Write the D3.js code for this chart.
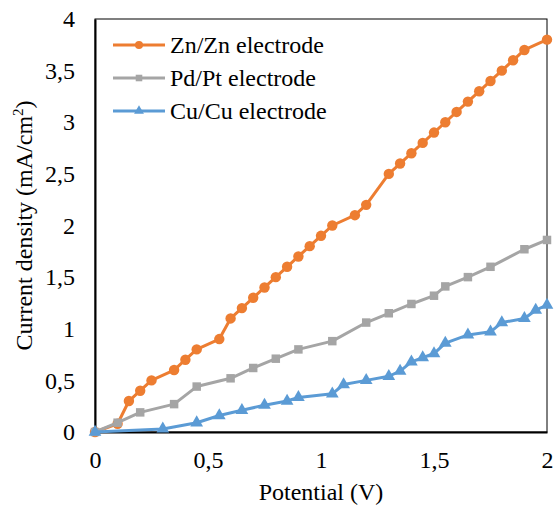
<!DOCTYPE html>
<html>
<head>
<meta charset="utf-8">
<script src="https://cdn.jsdelivr.net/npm/d3@7"></script>
</head>
<body style="margin:0; background:#fff">
<script>
let xTicks = [0, 0.5, 1, 1.5, 2]
let yTicks = [0, 0.5, 1, 1.5, 2, 2.5, 3, 3.5, 4]

let znX = [0, 0.1, 0.15, 0.2, 0.25, 0.35, 0.4, 0.45, 0.55, 0.6, 0.65, 0.7, 0.75, 0.8, 0.85, 0.9, 0.95, 1.0, 1.05, 1.15, 1.2, 1.3, 1.35, 1.4, 1.45, 1.5, 1.55, 1.6, 1.65, 1.7, 1.75, 1.8, 1.85, 1.9, 2.0]
let znY = [0, 0.08, 0.3, 0.4, 0.5, 0.6, 0.7, 0.8, 0.9, 1.1, 1.2, 1.3, 1.4, 1.5, 1.6, 1.7, 1.8, 1.9, 2.0, 2.1, 2.2, 2.5, 2.6, 2.7, 2.8, 2.9, 3.0, 3.1, 3.2, 3.3, 3.4, 3.5, 3.6, 3.7, 3.8]

let pdX = [0, 0.1, 0.2, 0.35, 0.45, 0.6, 0.7, 0.8, 0.9, 1.05, 1.2, 1.3, 1.4, 1.5, 1.55, 1.65, 1.75, 1.9, 2.0]
let pdY = [0, 0.09, 0.19, 0.27, 0.44, 0.52, 0.62, 0.71, 0.80, 0.88, 1.06, 1.15, 1.24, 1.32, 1.41, 1.50, 1.60, 1.77, 1.86]

let cuX = [0, 0.3, 0.45, 0.55, 0.65, 0.75, 0.85, 0.9, 1.05, 1.1, 1.2, 1.3, 1.35, 1.4, 1.45, 1.5, 1.55, 1.65, 1.75, 1.8, 1.9, 1.95, 2.0]
let cuY = [0, 0.03, 0.09, 0.16, 0.21, 0.26, 0.30, 0.335, 0.37, 0.46, 0.50, 0.54, 0.59, 0.68, 0.72, 0.76, 0.86, 0.94, 0.97, 1.06, 1.10, 1.18, 1.23]

let seriesNames = ['Zn/Zn electrode', 'Pd/Pt electrode', 'Cu/Cu electrode']

let series = [
  { name: seriesNames[0], xs: znX, ys: znY, color: '#ED7D31', symbol: d3.symbolCircle, size: 85 },
  { name: seriesNames[1], xs: pdX, ys: pdY, color: '#A5A5A5', symbol: d3.symbolSquare, size: 72 },
  { name: seriesNames[2], xs: cuX, ys: cuY, color: '#5B9BD5', symbol: d3.symbolTriangle, size: 70 }
]

let fontFam = "'Liberation Serif'"
let fontSize = '24px'

let margin = { top: 19, right: 8, bottom: 77, left: 95 }
let width = 555 - margin.left - margin.right
let height = 509 - margin.top - margin.bottom

let x = d3.scaleLinear().domain([0, 2]).range([0, width])
let y = d3.scaleLinear().domain([0, 4]).range([height, 0])

let fmt = d => String(d).replace('.', ',')

let svg = d3.select('body')
  .append('svg')
  .attr('width', 555)
  .attr('height', 509)

let g = svg.append('g')
  .attr('transform', 'translate(' + margin.left + ',' + margin.top + ')')

// plot frame
g.append('rect')
  .attr('width', width)
  .attr('height', height)
  .attr('fill', 'none')
  .attr('stroke', '#000')
  .attr('stroke-width', 1)

// axes
let xAxis = g.append('g')
  .attr('transform', 'translate(0,' + height + ')')
  .call(d3.axisBottom(x).tickValues(xTicks).tickSize(0).tickPadding(19).tickFormat(fmt))
let yAxis = g.append('g')
  .call(d3.axisLeft(y).tickValues(yTicks).tickSize(0).tickPadding(20).tickFormat(fmt))

xAxis.select('.domain').attr('stroke', '#000').attr('stroke-width', 2)
yAxis.select('.domain').attr('stroke', '#000').attr('stroke-width', 2)

// axis titles
svg.append('text')
  .attr('x', margin.left + width / 2)
  .attr('y', 500)
  .attr('text-anchor', 'middle')
  .text('Potential (V)')

let yt = svg.append('text')
  .attr('transform', 'translate(32,' + (margin.top + height / 2) + ') rotate(-90)')
  .attr('text-anchor', 'middle')
yt.append('tspan').text('Current density (mA/cm')
yt.append('tspan').attr('class', 'sup').attr('dy', -9).text('2')
yt.append('tspan').attr('dy', 9).text(')')

// lines and markers
let line = d3.line()
  .x(d => x(d[0]))
  .y(d => y(d[1]))

series.forEach(s => {
  let pts = s.xs.map((v, i) => [v, s.ys[i]])
  g.append('path')
    .datum(pts)
    .attr('fill', 'none')
    .attr('stroke', s.color)
    .attr('stroke-width', 3)
    .attr('stroke-linejoin', 'round')
    .attr('d', line)
  g.selectAll(null)
    .data(pts)
    .enter()
    .append('path')
    .attr('d', d3.symbol().type(s.symbol).size(s.size))
    .attr('transform', d => 'translate(' + x(d[0]) + ',' + y(d[1]) + ')')
    .attr('fill', s.color)
})

// legend
let legend = svg.append('g')
  .attr('transform', 'translate(113,45)')

series.forEach((s, i) => {
  let row = legend.append('g').attr('transform', 'translate(0,' + (i * 33) + ')')
  row.append('line')
    .attr('x1', 0).attr('x2', 52)
    .attr('stroke', s.color)
    .attr('stroke-width', 3)
  row.append('path')
    .attr('d', d3.symbol().type(s.symbol).size(s.size * 0.6))
    .attr('transform', 'translate(26,0)')
    .attr('fill', s.color)
  row.append('text')
    .attr('x', 57)
    .attr('dy', '0.35em')
    .text(s.name)
})

// one font for every label
svg.selectAll('text')
  .style('font-family', fontFam)
  .style('font-size', fontSize)
  .attr('fill', '#000')
svg.selectAll('.sup').style('font-size', '15px')
</script>
</body>
</html>
